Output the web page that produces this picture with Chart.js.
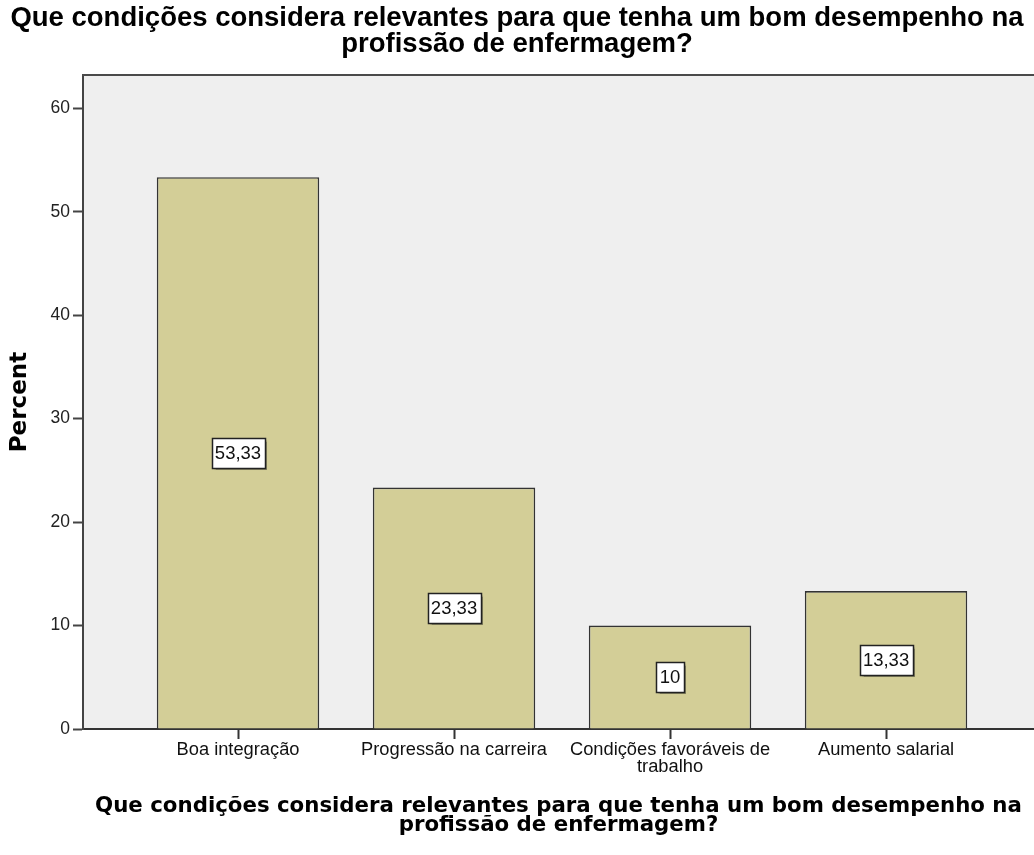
<!DOCTYPE html>
<html>
<head>
<meta charset="utf-8">
<script src="https://cdn.jsdelivr.net/npm/chart.js@4/dist/chart.umd.min.js"></script>
<style>
  html, body { margin: 0; padding: 0; background: #ffffff; overflow: hidden; }
  canvas { display: block; }
</style>
</head>
<body>
<canvas id="chart" width="1034" height="855"></canvas>
<script>
// Response categories (multi-line labels are split into arrays)
const categories = [
  ["Boa integração"],
  ["Progressão na carreira"],
  ["Condições favoráveis de", "trabalho"],
  ["Aumento salarial"]
];

// Percentage of respondents per category
const percents = [53.33, 23.33, 10, 13.33];

// Value-axis tick labels
const yTicks = [0, 10, 20, 30, 40, 50, 60];

const questionTitle = [
  "Que condições considera relevantes para que tenha um bom desempenho na",
  "profissão de enfermagem?"
];
const yAxisTitle = "Percent";

// Category positions on the horizontal axis
const positions = categories.map((_, i) => i);

const SANS = '"Liberation Sans", Arial, sans-serif';
const DEJAVU = '"DejaVu Sans", sans-serif';

// Light grey plot background plus the top frame line
const plotFrame = {
  id: 'plotFrame',
  beforeDraw(chart) {
    const { ctx, chartArea: a } = chart;
    ctx.save();
    ctx.fillStyle = '#efefef';
    ctx.fillRect(a.left, a.top, a.right - a.left, a.bottom - a.top);
    ctx.restore();
  },
  afterDraw(chart) {
    const { ctx, chartArea: a } = chart;
    ctx.save();
    ctx.strokeStyle = '#4a4a4a';
    ctx.lineWidth = 2;
    ctx.beginPath();
    ctx.moveTo(a.left - 1, a.top);
    ctx.lineTo(a.right, a.top);
    ctx.stroke();
    ctx.restore();
  }
};

// Boxed value labels centred at half the bar height
const valueBoxes = {
  id: 'valueBoxes',
  afterDatasetsDraw(chart) {
    const { ctx } = chart;
    const ys = chart.scales.y;
    const meta = chart.getDatasetMeta(0);
    ctx.save();
    ctx.font = '18.5px ' + SANS;
    ctx.textAlign = 'center';
    ctx.textBaseline = 'middle';
    meta.data.forEach((bar, i) => {
      const v = percents[i];
      const text = String(v).replace('.', ',');
      const cy = ys.getPixelForValue(v / 2);
      const w = Math.round(ctx.measureText(text).width + 7);
      const h = 30;
      const x0 = Math.round(bar.x - w / 2) + 0.5;
      const y0 = Math.round(cy - h / 2) + 0.5;
      ctx.save();
      ctx.shadowColor = 'rgba(0,0,0,0.35)';
      ctx.shadowOffsetX = 1;
      ctx.shadowOffsetY = 1;
      ctx.shadowBlur = 1;
      ctx.fillStyle = '#ffffff';
      ctx.fillRect(x0, y0, w, h);
      ctx.restore();
      ctx.strokeStyle = '#222222';
      ctx.lineWidth = 1.5;
      ctx.strokeRect(x0, y0, w, h);
      ctx.fillStyle = '#111111';
      ctx.fillText(text, bar.x, cy + 1);
    });
    ctx.restore();
  }
};

new Chart(document.getElementById('chart'), {
  type: 'bar',
  data: {
    datasets: [{
      data: positions.map((p, i) => ({ x: p, y: percents[i] })),
      backgroundColor: '#d3ce97',
      borderColor: '#333333',
      borderWidth: 1.6,
      categoryPercentage: 0.752,
      barPercentage: 1
    }]
  },
  options: {
    responsive: false,
    animation: false,
    devicePixelRatio: 1,
    layout: { padding: 0 },
    plugins: {
      legend: { display: false },
      tooltip: { enabled: false },
      title: {
        display: true,
        text: questionTitle,
        color: '#000000',
        font: { family: SANS, size: 27.5, weight: 'bold', lineHeight: 0.92 },
        padding: { top: 6, bottom: 18.5 }
      }
    },
    scales: {
      x: {
        type: 'linear',
        min: -0.7176,
        max: 3.685,
        offset: false,
        afterBuildTicks: (s) => { s.ticks = positions.map(v => ({ value: v })); },
        afterFit: (s) => { s.height = 126; },
        ticks: {
          callback: (v) => categories[v],
          autoSkip: false,
          maxRotation: 0,
          padding: 3,
          color: '#111111',
          font: { family: SANS, size: 18.3, lineHeight: 0.92 }
        },
        grid: {
          offset: false,
          drawOnChartArea: false,
          drawTicks: true,
          tickLength: 10,
          tickWidth: 2,
          color: '#333333'
        },
        border: { display: true, color: '#333333', width: 2 },
        title: {
          display: true,
          text: questionTitle,
          color: '#000000',
          font: { family: DEJAVU, size: 21.3, weight: 'bold', lineHeight: 0.9 },
          padding: { top: 0, bottom: 20 }
        }
      },
      y: {
        min: 0,
        max: 63.2,
        afterBuildTicks: (s) => { s.ticks = yTicks.map(v => ({ value: v })); },
        afterFit: (s) => { s.width = 83; },
        ticks: {
          padding: 3,
          color: '#222222',
          font: { family: SANS, size: 17.5 }
        },
        grid: {
          drawOnChartArea: false,
          drawTicks: true,
          tickLength: 10,
          tickWidth: 2,
          color: '#444444'
        },
        border: { display: true, color: '#444444', width: 2 },
        title: {
          display: true,
          text: yAxisTitle,
          color: '#000000',
          font: { family: DEJAVU, size: 23, weight: 'bold', lineHeight: 1.2 },
          padding: { top: 6 }
        }
      }
    }
  },
  plugins: [plotFrame, valueBoxes]
});
</script>
</body>
</html>
